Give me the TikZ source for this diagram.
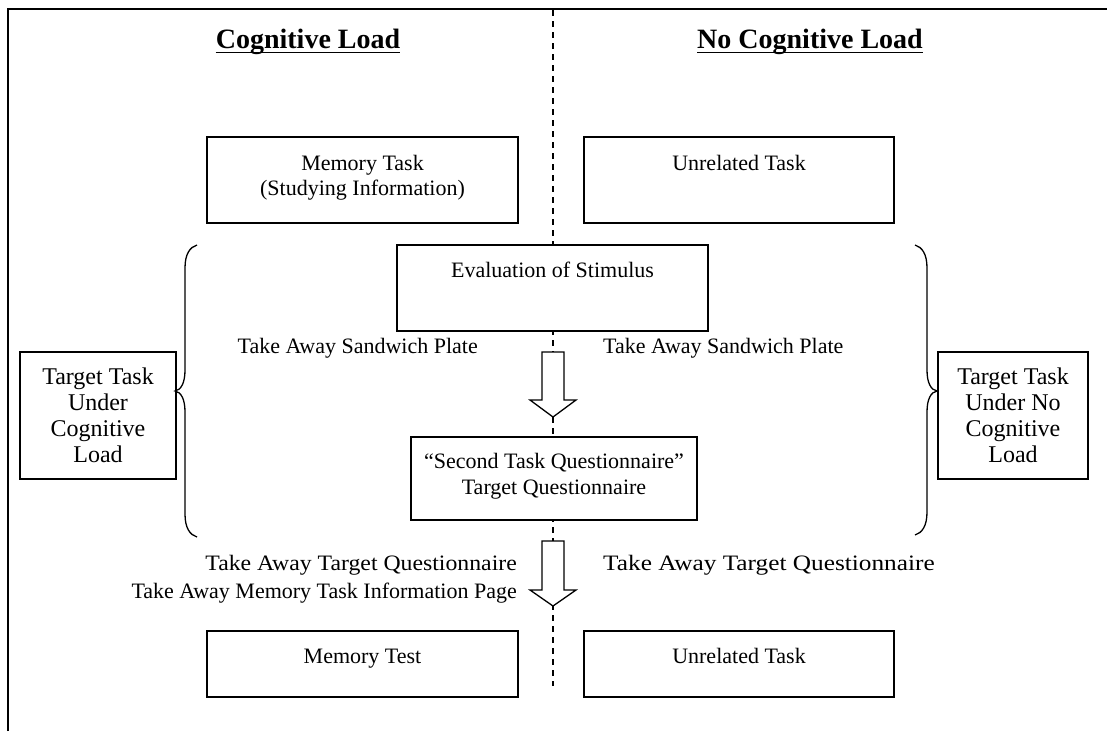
\documentclass[tikz,border=0pt]{standalone}
\usepackage{fontspec}
\setmainfont{Liberation Serif}
\begin{document}
\begin{tikzpicture}[x=1pt,y=-1pt,
  box/.style={draw, line width=1.5pt, inner sep=0pt},
  txt/.style={font=\fontsize{22}{26}\selectfont, inner sep=0pt, anchor=base},
  head/.style={font=\fontsize{28}{32}\selectfont\bfseries, inner sep=0pt, anchor=base},
  sidebox/.style={draw, line width=1.5pt, inner sep=0pt, align=center, font=\fontsize{24}{26}\selectfont, minimum width=156pt, minimum height=127pt},
  blockarrow/.style={draw, line width=1.3pt, fill=white, line join=miter},
  bracestyle/.style={draw, line width=1.3pt},
  divider/.style={line width=1.6pt, dash pattern=on 6pt off 5pt}
]
\useasboundingbox (0,0) rectangle (1107,731);
% frame
\draw[line width=2.2pt] (8,731) -- (8,9) -- (1107,9);
% divider
\coordinate (dtop) at (553,10);
\coordinate (dbot) at (553,686);
\draw[divider] (dtop) -- (dbot);
% headings
\node[head] (h1) at (308,48) {Cognitive Load};
\node[head] (h2) at (810,48) {No Cognitive Load};
\draw[line width=1.8pt] ([yshift=-4.5pt]h1.base west) -- ([yshift=-4.5pt]h1.base east);
\draw[line width=1.8pt] ([yshift=-4.5pt]h2.base west) -- ([yshift=-4.5pt]h2.base east);
% top boxes
\node[box, minimum width=311pt, minimum height=86pt, fill=white] (mem) at (362.5,180) {};
\node[txt] (memt1) at (362.5,170) {Memory Task};
\node[txt] (memt2) at (362.5,195) {(Studying Information)};
\node[box, minimum width=310pt, minimum height=86pt, fill=white] (unr1) at (739,180) {};
\node[txt] (unrt1) at (739,170) {Unrelated Task};
% evaluation box
\node[box, minimum width=311pt, minimum height=86pt, fill=white] (eval) at (552.5,288) {};
\node[txt] (evalt) at (552.5,277) {Evaluation of Stimulus};
% arrow 1
\draw[blockarrow] (542,352) -- (564,352) -- (564,400) -- (576,400) -- (553,417) -- (530,400) -- (542,400) -- cycle;
\node[txt, anchor=base east] (ta1) at (478,353) {Take Away Sandwich Plate};
\node[txt, anchor=base west] (ta2) at (603,353) {Take Away Sandwich Plate};
% second task box
\node[box, minimum width=286pt, minimum height=83pt, fill=white] (sec) at (554,478.5) {};
\node[txt] (sect1) at (554,468) {\char"201C Second Task Questionnaire\char"201D};
\node[txt] (sect2) at (554,494) {Target Questionnaire};
% arrow 2
\draw[blockarrow] (542,541) -- (564,541) -- (564,590) -- (576,590) -- (553,606) -- (530,590) -- (542,590) -- cycle;
\node[txt, anchor=base east] (tb1) at (517,570) {\scalebox{1.08}[1]{Take Away Target Questionnaire}};
\node[txt, anchor=base east] (tb2) at (517,598) {Take Away Memory Task Information Page};
\node[txt, anchor=base west] (tb3) at (603,570) {\scalebox{1.15}[1]{Take Away Target Questionnaire}};
% bottom boxes
\node[box, minimum width=311pt, minimum height=66pt, fill=white] (memtest) at (362.5,664) {};
\node[txt] (memtestt) at (362.5,663) {Memory Test};
\node[box, minimum width=310pt, minimum height=66pt, fill=white] (unr2) at (739,664) {};
\node[txt] (unrt2) at (739,663) {Unrelated Task};
% side boxes
\node[sidebox] (lside) at (98,415.5) {Target Task\\Under\\Cognitive\\Load};
\node[sidebox, minimum width=150pt] (rside) at (1013,415.5) {Target Task\\Under No\\Cognitive\\Load};
% braces
\draw[bracestyle] (197,245) .. controls (190,247) and (185,254) .. (185,268) -- (185,370) .. controls (185,383) and (181,390) .. (175,391) .. controls (181,392) and (185,399) .. (185,412) -- (185,514) .. controls (185,528) and (190,535) .. (197,537);
\draw[bracestyle] (915,245) .. controls (922,247) and (927,254) .. (927,268) -- (927,370) .. controls (927,383) and (931,390) .. (937,391) .. controls (931,392) and (927,399) .. (927,412) -- (927,512) .. controls (927,526) and (922,533) .. (915,535);
\end{tikzpicture}
\end{document}
